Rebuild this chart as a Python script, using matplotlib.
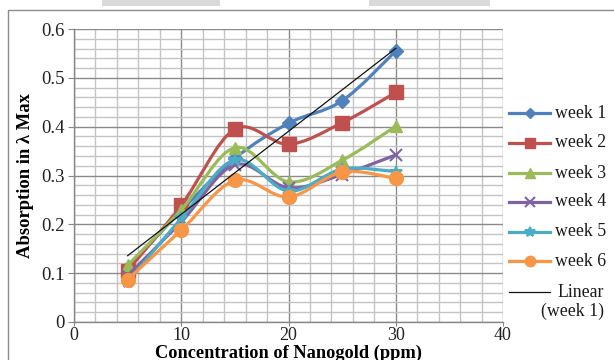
import numpy as np
import matplotlib
matplotlib.use("Agg")
import matplotlib.pyplot as plt
from matplotlib.path import Path
from matplotlib.patches import PathPatch, Rectangle
from matplotlib.lines import Line2D
from matplotlib.ticker import MultipleLocator

# Concentration of nanogold (ppm)
conc = [5, 10, 15, 20, 25, 30]

# Absorption at lambda max, one series per week
week1 = [0.110, 0.228, 0.335, 0.407, 0.453, 0.555]
week2 = [0.105, 0.239, 0.395, 0.364, 0.408, 0.470]
week3 = [0.116, 0.230, 0.357, 0.287, 0.331, 0.401]
week4 = [0.095, 0.205, 0.322, 0.275, 0.302, 0.342]
week5 = [0.082, 0.212, 0.332, 0.268, 0.313, 0.308]
week6 = [0.087, 0.188, 0.290, 0.256, 0.307, 0.294]

series_names = ["week 1", "week 2", "week 3", "week 4", "week 5", "week 6"]
series_values = [week1, week2, week3, week4, week5, week6]
colors = ["#4F81BD", "#C0504D", "#9BBB59", "#8064A2", "#4BACC6", "#F79646"]
markers = ["D", "s", "^", "x", "*", "o"]
marker_sizes = [7, 10, 9, 9, 9, 10]
legend_marker_sizes = [5, 7.5, 7, 7, 7.5, 7.5]

xticks = [0, 10, 20, 30, 40]
yticks = [0, 0.1, 0.2, 0.3, 0.4, 0.5, 0.6]
ytick_labels = ["0", "0.1", "0.2", "0.3", "0.4", "0.5", "0.6"]

SERIF = ["Liberation Serif", "DejaVu Serif"]
plt.rcParams["font.family"] = SERIF


def smooth_path(xs, ys):
    """Bezier path through the points, Catmull-Rom style (Excel smoothed line)."""
    pts = np.column_stack([xs, ys]).astype(float)
    n = len(pts)
    verts = [pts[0]]
    codes = [Path.MOVETO]
    for i in range(n - 1):
        p0 = pts[i - 1] if i > 0 else pts[i]
        p1 = pts[i]
        p2 = pts[i + 1]
        p3 = pts[i + 2] if i + 2 < n else pts[i + 1]
        c1 = p1 + (p2 - p0) / 6.0
        c2 = p2 - (p3 - p1) / 6.0
        verts += [c1, c2, p2]
        codes += [Path.CURVE4] * 3
    return Path(verts, codes)


fig = plt.figure(figsize=(6.14, 3.60), dpi=100)
W, H = 614, 360

ax = fig.add_axes([74 / W, 1 - 322 / H, (503 - 74) / W, (322 - 29) / H])
ax.set_xlim(0, 40)
ax.set_ylim(0, 0.6)

# grid
ax.xaxis.set_major_locator(MultipleLocator(10))
ax.xaxis.set_minor_locator(MultipleLocator(2))
ax.yaxis.set_major_locator(MultipleLocator(0.1))
ax.yaxis.set_minor_locator(MultipleLocator(0.02))
ax.grid(which="minor", color="#c4c4c4", linewidth=1.0, zorder=0)
ax.grid(which="major", color="#8a8a8a", linewidth=1.0, zorder=0)
ax.set_axisbelow(True)
ax.tick_params(which="minor", length=0)
ax.tick_params(which="major", length=4.5, width=0.8, color="#868686",
               labelsize=13.5, labelcolor="#222222", pad=2.5)
ax.tick_params(axis="x", which="major", length=3.0, pad=0.5, labelsize=13)
ax.set_xticks(xticks)
ax.set_yticks(yticks)
ax.set_yticklabels(ytick_labels)
for side in ["top", "right"]:
    ax.spines[side].set_visible(False)
for side in ["left", "bottom"]:
    ax.spines[side].set_color("#868686")
    ax.spines[side].set_linewidth(1.0)

# series
for i, (name, vals) in enumerate(zip(series_names, series_values)):
    patch = PathPatch(smooth_path(conc, vals), facecolor="none",
                      edgecolor=colors[i], linewidth=2.3, zorder=3 + i,
                      capstyle="round", joinstyle="round")
    ax.add_patch(patch)
    ax.plot(conc, vals, linestyle="none", marker=markers[i],
            markersize=marker_sizes[i], color=colors[i],
            markeredgecolor=colors[i], markeredgewidth=1.5 if markers[i] in "x*" else 1.0,
            zorder=3 + i)

# linear trend of week 1
slope, intercept = np.polyfit(conc, week1, 1)
tx = np.array([conc[0], conc[-1]])
ax.plot(tx, slope * tx + intercept, color="#111111", linewidth=0.9, zorder=20)

ax.xaxis.set_label_coords(0.5, -(353 - 322) / (322 - 29))
ax.set_xlabel("Concentration of Nanogold (ppm)", fontsize=13.2,
              fontweight="bold", va="center")
ax.yaxis.set_label_coords(-(74 - 25) / (503 - 74), 0.5)
ax.set_ylabel("Absorption in λ Max", fontsize=13.4, fontweight="bold",
              va="center")

# legend entries
leg_y = [113, 143, 173, 202, 232, 261]
x0, x1, xt = 509 / W, 550 / W, 555 / W
for i, name in enumerate(series_names):
    yy = 1 - leg_y[i] / H
    fig.add_artist(Line2D([x0, x1], [yy, yy], transform=fig.transFigure,
                          color=colors[i], linewidth=2.3))
    fig.add_artist(Line2D([(x0 + x1) / 2], [yy], transform=fig.transFigure,
                          color=colors[i], marker=markers[i],
                          markersize=legend_marker_sizes[i],
                          markeredgewidth=1.5 if markers[i] in "x*" else 1.0,
                          linestyle="none"))
    fig.text(xt, yy, name, fontsize=12.8, va="center", ha="left",
             color="#1a1a1a")
yl = 1 - 292 / H
fig.add_artist(Line2D([x0, x1], [yl, yl], transform=fig.transFigure,
                      color="#111111", linewidth=0.9))
fig.text(604 / W, 1 - 302 / H, "Linear\n(week 1)", fontsize=12.8,
         va="center", ha="right", multialignment="right", color="#1a1a1a",
         linespacing=1.1)

# chart frame and header shading
fig.add_artist(Rectangle((8 / W, -0.05), 1.0, 1 - 10 / H + 0.05,
                         transform=fig.transFigure, fill=False,
                         edgecolor="#8c8c8c", linewidth=1.0))
for left, right in [(102, 220), (369, 490)]:
    fig.add_artist(Rectangle((left / W, 1 - 6 / H), (right - left) / W, 6 / H,
                             transform=fig.transFigure, facecolor="#d9d9d9",
                             edgecolor="none"))

fig.savefig("out.png", dpi=100)
